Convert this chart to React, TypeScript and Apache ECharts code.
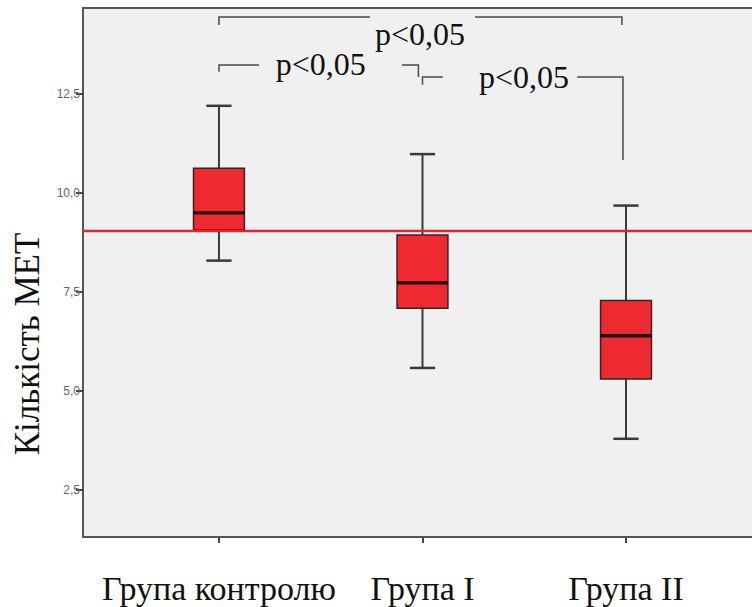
import React, { useEffect, useRef } from "react";
import * as echarts from "echarts";

// Categories
const CATEGORIES = ["Група контролю", "Група I", "Група II"];
// Box statistics per category
const BOX_MIN = [8.29, 5.58, 3.79];
const BOX_Q1 = [9.07, 7.09, 5.3];
const BOX_MEDIAN = [9.5, 7.73, 6.39];
const BOX_Q3 = [10.62, 8.94, 7.28];
const BOX_MAX = [12.2, 10.98, 9.68];
// Reference line
const REF_LINE = 9.04;
// Y tick labels
const Y_TICKS = [2.5, 5, 7.5, 10, 12.5];
// Significance brackets
const BRACKET_X1 = [0, 0, 1.0];
const BRACKET_X2 = [1.98, 0.98, 1.985];
const BRACKET_Y = [14.44, 13.23, 12.93];
const BRACKET_LEG_L = [14.24, 13.06, 12.73];
const BRACKET_LEG_R = [14.24, 12.93, 10.83];
const BRACKET_GAP_START = [0.742, 0.197, 1.1];
const BRACKET_GAP_END = [1.258, 0.899, 1.76];
const BRACKET_LABEL_X = [0.988, 0.5, 1.499];
const BRACKET_LABEL_Y = [14.02, 13.26, 12.93];
const BRACKET_LABELS = ["p<0,05", "p<0,05", "p<0,05"];

const X_MIN = -0.668;
const X_MAX = 2.619;
const Y_MIN = 1.31;
const Y_MAX = 14.67;

const SERIF = "Liberation Serif";

export default function App() {
  const ref = useRef<HTMLDivElement>(null);

  useEffect(() => {
    if (!ref.current) return;
    const chart = echarts.init(ref.current, null, { renderer: "svg" });

    const boxData = CATEGORIES.map((_, i) => [
      i,
      BOX_MIN[i],
      BOX_Q1[i],
      BOX_MEDIAN[i],
      BOX_Q3[i],
      BOX_MAX[i],
    ]);

    const bracketData = BRACKET_X1.map((_, i) => [
      BRACKET_X1[i],
      BRACKET_X2[i],
      BRACKET_Y[i],
      BRACKET_LEG_L[i],
      BRACKET_LEG_R[i],
      BRACKET_GAP_START[i],
      BRACKET_GAP_END[i],
      BRACKET_LABEL_X[i],
      BRACKET_LABEL_Y[i],
    ]);

    const BOX_HALF = 0.125;
    const CAP_HALF = 0.062;
    const lineColor = "#3a3a3a";

    const option: any = {
      animation: false,
      backgroundColor: "#ffffff",
      grid: {
        left: 83,
        right: 0,
        top: 8,
        bottom: 70,
        show: true,
        backgroundColor: "#f0f0f0",
        borderWidth: 0,
      },
      xAxis: [
        {
          type: "value",
          min: X_MIN,
          max: X_MAX,
          splitLine: { show: false },
          axisLine: { show: true, onZero: false, lineStyle: { color: "#555", width: 2 } },
          axisTick: {
            show: true,
            customValues: [0, 1, 2],
            length: 6,
            lineStyle: { color: "#444", width: 2 },
          },
          axisLabel: {
            show: true,
            customValues: [0, 1, 2],
            margin: 34,
            fontFamily: SERIF,
            fontSize: 34,
            color: "#111",
            formatter: (v: number) => CATEGORIES[Math.round(v)] ?? "",
          },
        },
        {
          type: "value",
          position: "top",
          min: X_MIN,
          max: X_MAX,
          splitLine: { show: false },
          axisLine: { show: true, onZero: false, lineStyle: { color: "#555", width: 2 } },
          axisTick: { show: false },
          axisLabel: { show: false },
        },
      ],
      yAxis: {
        type: "value",
        min: Y_MIN,
        max: Y_MAX,
        splitLine: { show: false },
        axisLine: { show: true, onZero: false, lineStyle: { color: "#555", width: 2 } },
        axisTick: {
          show: true,
          customValues: Y_TICKS,
          length: 7,
          lineStyle: { color: "#444", width: 2 },
        },
        axisLabel: {
          show: true,
          customValues: Y_TICKS,
          margin: 3,
          fontFamily: "Liberation Sans",
          fontSize: 12,
          color: "#666",
          formatter: (v: number) => v.toFixed(1).replace(".", ","),
        },
      },
      graphic: [
        {
          type: "text",
          x: 27,
          y: 344,
          rotation: Math.PI / 2,
          style: {
            text: "Кількість МЕТ",
            fontFamily: SERIF,
            fontSize: 35,
            fill: "#111",
            textAlign: "center",
            textVerticalAlign: "middle",
          },
        },
      ],
      series: [
        {
          type: "custom",
          name: "box",
          z: 2,
          data: boxData,
          renderItem: (params: any, api: any) => {
            const x = api.value(0);
            const lo = api.value(1);
            const q1 = api.value(2);
            const med = api.value(3);
            const q3 = api.value(4);
            const hi = api.value(5);
            const pHi = api.coord([x, hi]);
            const pLo = api.coord([x, lo]);
            const pQ1L = api.coord([x - BOX_HALF, q1]);
            const pQ3R = api.coord([x + BOX_HALF, q3]);
            const pMedL = api.coord([x - BOX_HALF, med]);
            const pMedR = api.coord([x + BOX_HALF, med]);
            const capL = api.coord([x - CAP_HALF, hi]);
            const capR = api.coord([x + CAP_HALF, hi]);
            const capLL = api.coord([x - CAP_HALF, lo]);
            const capLR = api.coord([x + CAP_HALF, lo]);
            const ws = { stroke: lineColor, lineWidth: 2 };
            return {
              type: "group",
              children: [
                { type: "line", shape: { x1: pHi[0], y1: pHi[1], x2: pHi[0], y2: pQ3R[1] }, style: ws },
                { type: "line", shape: { x1: pLo[0], y1: pLo[1], x2: pLo[0], y2: pQ1L[1] }, style: ws },
                { type: "line", shape: { x1: capL[0], y1: capL[1], x2: capR[0], y2: capR[1] }, style: { stroke: lineColor, lineWidth: 2.5 } },
                { type: "line", shape: { x1: capLL[0], y1: capLL[1], x2: capLR[0], y2: capLR[1] }, style: { stroke: lineColor, lineWidth: 2.5 } },
                {
                  type: "rect",
                  shape: {
                    x: pQ1L[0],
                    y: pQ3R[1],
                    width: pQ3R[0] - pQ1L[0],
                    height: pQ1L[1] - pQ3R[1],
                  },
                  style: { fill: "#ee2a30", stroke: "#3a2222", lineWidth: 1.5 },
                },
                {
                  type: "line",
                  shape: { x1: pMedL[0], y1: pMedL[1], x2: pMedR[0], y2: pMedR[1] },
                  style: { stroke: "#2a0707", lineWidth: 3.5 },
                },
              ],
            };
          },
        },
        {
          type: "custom",
          name: "ref",
          z: 3,
          data: [[REF_LINE]],
          renderItem: (params: any, api: any) => {
            const cs = params.coordSys;
            const p = api.coord([X_MIN, api.value(0)]);
            return {
              type: "line",
              shape: { x1: cs.x, y1: p[1], x2: cs.x + cs.width, y2: p[1] },
              style: { stroke: "#e3262c", lineWidth: 2.5 },
            };
          },
          encode: { y: 0 },
        },
        {
          type: "custom",
          name: "brackets",
          z: 4,
          data: bracketData,
          renderItem: (params: any, api: any) => {
            const x1 = api.value(0);
            const x2 = api.value(1);
            const y = api.value(2);
            const yl = api.value(3);
            const yr = api.value(4);
            const g1 = api.value(5);
            const g2 = api.value(6);
            const lx = api.value(7);
            const ly = api.value(8);
            const a = api.coord([x1, yl]);
            const b = api.coord([x1, y]);
            const c = api.coord([g1, y]);
            const d = api.coord([g2, y]);
            const e = api.coord([x2, y]);
            const f = api.coord([x2, yr]);
            const t = api.coord([lx, ly]);
            const st = { stroke: "#4a4a4a", lineWidth: 1.5, fill: null };
            return {
              type: "group",
              children: [
                { type: "polyline", shape: { points: [a, b, c] }, style: st },
                { type: "polyline", shape: { points: [d, e, f] }, style: st },
                {
                  type: "text",
                  x: t[0],
                  y: t[1],
                  style: {
                    text: BRACKET_LABELS[params.dataIndex],
                    fontFamily: SERIF,
                    fontSize: 32,
                    fill: "#111",
                    textAlign: "center",
                    textVerticalAlign: "middle",
                  },
                },
              ],
            };
          },
        },
      ],
    };

    chart.setOption(option);
    return () => chart.dispose();
  }, []);

  return (
    <div
      ref={ref}
      style={{ position: "fixed", left: 0, top: 0, width: 752, height: 607 }}
    />
  );
}
